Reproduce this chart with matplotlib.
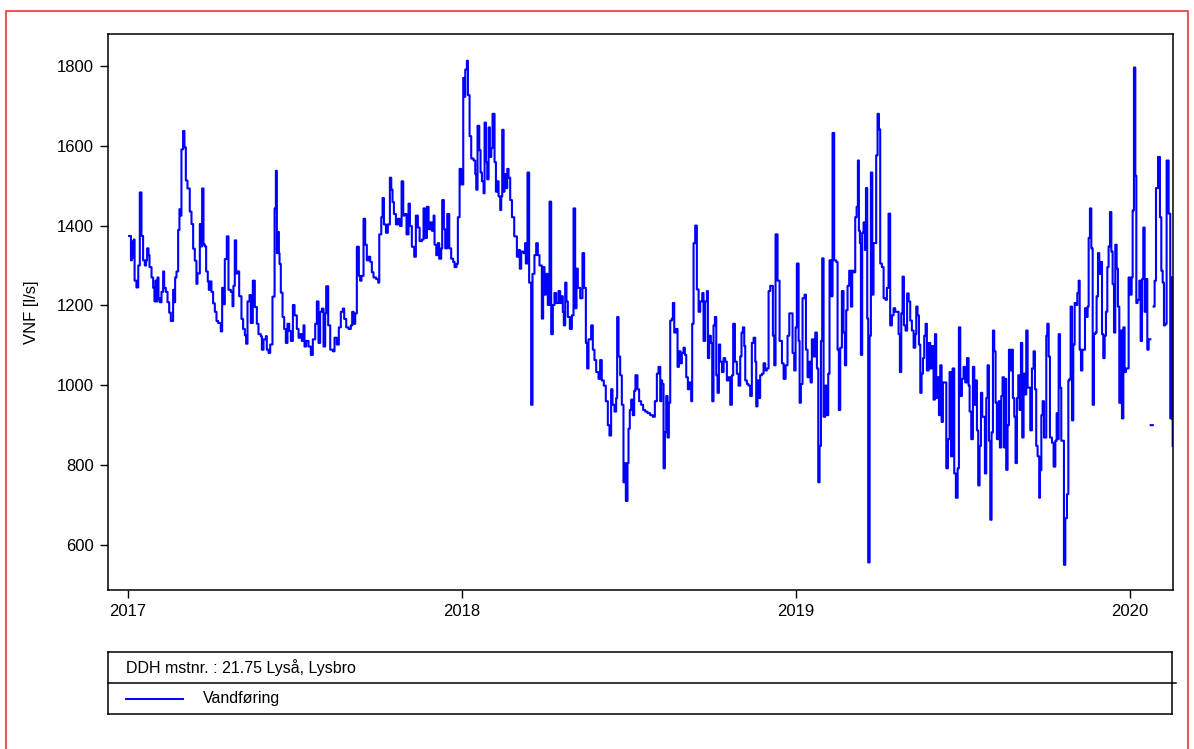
import numpy as np
import pandas as pd
import matplotlib
matplotlib.use('Agg')
import matplotlib.pyplot as plt
import matplotlib.dates as mdates
from matplotlib.lines import Line2D

plt.rcParams['font.family'] = ['Liberation Sans', 'DejaVu Sans']

# Daily discharge (l/s) at DDH 21.75 Lysaa, Lysbro.
# days = days after 2017-01-01, flow = value from that day on (step curve)
days_2017 = [1, 3, 4, 5, 6, 7, 9, 11, 12.7, 14.5, 16.3, 18.2, 19.6, 20.7, 22.2, 23.3, 25.5, 27.3,
             28.7, 29.8, 30.9, 32, 33.1, 34.6, 36.4, 38.2, 39.3, 41.1, 43, 44.8, 46.6, 49.1, 50.2,
             51.3, 52.8, 54.6, 56, 57.1, 58.2, 60, 61.5, 63, 64.8, 67.3, 69.2, 71, 72.8, 74.6, 75.7,
             78.3, 79.4, 80.8, 82.3, 83.7, 85.2, 87, 88.1, 89.2, 91, 92.8, 94.7, 96.5, 98.3, 101.2,
             102.7, 104.1, 105.6, 107.8, 109.6, 112.2, 114, 115, 116.5, 118, 119.4, 121.3, 123.8,
             125.6, 127.5, 128.9, 130.4, 132.6, 134, 136.2, 138.4, 140.6, 142.4, 145, 146.1, 147.9,
             150.5, 151.5, 153.4, 155.2, 157.7, 160, 161.4, 162.5, 163.6, 164.7, 165.4, 166.8, 168.7,
             170.5, 172.3, 174.1, 176, 177.8, 180, 181.8, 184.3, 186.2, 188, 189.8, 191.6, 192.7,
             194.5, 197.1, 199.6, 201.8, 204.4, 206.2, 208, 209.8, 211.7, 213.5, 215.3, 216.4, 218.6,
             220.8, 223.7, 225.5, 228, 230.2, 232.4, 234.6, 236.1, 238.3, 240.8, 243.3, 244.8, 246.3,
             248.1, 249.9, 252.1, 253.5, 255, 257.2, 259, 260.8, 262.7, 264.5, 266.3, 268.1, 271,
             273.2, 274.4, 276.6, 278, 279.5, 281.7, 283.8, 286, 287.5, 288.9, 290.4, 292.6, 294.8,
             297, 298.8, 300.6, 302, 304.2, 306.4, 307.9, 310, 312.6, 314.4, 316.6, 318.5, 321, 322.8,
             324.6, 326.5, 328.3, 330.1, 331.9, 333.8, 334.8, 336.7, 338.5, 339.9, 342.1, 343.2, 345,
             346.5, 348.7, 350.9, 353, 355.2, 356.7, 358.9, 360.3, 362.2, 364]
flow_2017 = [1374, 1313, 1360, 1320, 1365, 1262, 1245, 1300, 1483, 1374, 1313, 1300, 1313, 1343, 1326,
             1296, 1270, 1244, 1210, 1262, 1210, 1270, 1218, 1208, 1234, 1285, 1244, 1234, 1208, 1182,
             1161, 1239, 1208, 1270, 1285, 1389, 1441, 1425, 1591, 1637, 1596, 1513, 1493, 1435, 1404,
             1342, 1312, 1254, 1280, 1404, 1348, 1493, 1353, 1348, 1285, 1260, 1239, 1260, 1234, 1205,
             1184, 1161, 1156, 1135, 1244, 1203, 1316, 1373, 1239, 1234, 1198, 1249, 1363, 1280, 1285,
             1223, 1166, 1141, 1125, 1104, 1210, 1226, 1156, 1262, 1196, 1154, 1128, 1123, 1089, 1115,
             1123, 1089, 1081, 1102, 1222, 1443, 1537, 1331, 1384, 1331, 1304, 1232, 1171, 1141, 1106,
             1154, 1136, 1111, 1201, 1175, 1141, 1119, 1128, 1111, 1150, 1097, 1111, 1097, 1076, 1115,
             1154, 1210, 1106, 1184, 1192, 1097, 1180, 1248, 1150, 1089, 1085, 1119, 1102, 1145, 1184,
             1192, 1166, 1145, 1141, 1150, 1184, 1154, 1180, 1347, 1274, 1262, 1274, 1417, 1352, 1313,
             1322, 1309, 1283, 1270, 1266, 1257, 1378, 1421, 1469, 1403, 1382, 1403, 1520, 1490, 1459,
             1429, 1403, 1417, 1399, 1511, 1425, 1429, 1378, 1455, 1399, 1347, 1322, 1425, 1395, 1361,
             1365, 1443, 1369, 1447, 1391, 1408, 1387, 1425, 1352, 1326, 1356, 1317, 1343, 1464, 1391,
             1343, 1429, 1343, 1317, 1309, 1296, 1304, 1421, 1542, 1503]

days_2018 = [366.2, 367.6, 368.4, 370.2, 371.3, 373.1, 374.9, 377.5, 379.3, 380.4, 381.8, 383.7, 385.1,
             386.6, 388.4, 389.5, 391, 392.4, 393.9, 395.3, 396.8, 398.2, 400.4, 401.9, 403.3, 404.8,
             406.6, 407.7, 408.8, 410.3, 411.3, 412.8, 414.3, 415.7, 417.5, 419.4, 421.9, 424.8, 426.6,
             428, 429.5, 432, 433.9, 434.6, 436.4, 438.2, 440.4, 441.9, 444, 445.9, 447.7, 449.5, 452.1,
             453.5, 455, 456.4, 458.6, 460.5, 462.3, 464.1, 465.9, 467.7, 470.3, 472.1, 473.9, 475,
             476.1, 477.6, 479, 480.5, 482.7, 484.9, 486.7, 488.5, 490, 491.4, 494, 496.5, 498.3, 500.2,
             501.6, 503.1, 506, 507.8, 509.6, 511.5, 514, 515.8, 517.6, 519.8, 522, 524.2, 526, 527.8,
             529.3, 531.5, 533.3, 534.4, 535.9, 537.7, 539.5, 541.3, 543.1, 543.9, 545.7, 546.8, 548.2,
             549.7, 551.5, 553, 554.4, 556.6, 558.4, 560.6, 562.8, 565, 567.6, 570.5, 573.4, 575.6,
             577.8, 579.6, 581.5, 582.6, 583.6, 585.1, 586.6, 588, 589.5, 590.9, 592.4, 594.2, 595.3,
             596.8, 598.6, 600.4, 601.9, 603.7, 605.1, 606.9, 608.4, 609.9, 611.7, 613.5, 615.3, 616.4,
             617.9, 619.7, 621.5, 623.4, 625.2, 627.4, 628.8, 630.6, 632.5, 633.6, 635, 636.8, 638.3,
             639.7, 641.2, 642.7, 644.1, 645.6, 647, 648.9, 650.7, 652.5, 654.3, 656.1, 658, 659.8,
             661.2, 663.1, 665.2, 667.1, 668.9, 670.3, 671.8, 673.3, 674.4, 676.2, 678, 679.8, 681.6,
             683.5, 685.3, 686.4, 687.8, 689.7, 690.7, 692.6, 694.4, 696.2, 698, 699.9, 701.7, 704.6,
             706.1, 707.5, 709.7, 711.9, 714.5, 716.3, 718.5, 720.6, 722.5, 726.1, 727.9, 729.4]
flow_2018 = [1770, 1723, 1791, 1813, 1727, 1624, 1568, 1563, 1529, 1490, 1650, 1589, 1533, 1511, 1481,
             1658, 1559, 1516, 1646, 1572, 1594, 1680, 1559, 1485, 1511, 1473, 1439, 1473, 1640, 1485,
             1529, 1494, 1542, 1520, 1464, 1421, 1373, 1322, 1339, 1292, 1335, 1331, 1356, 1305, 1533,
             1257, 951, 1279, 1326, 1356, 1326, 1300, 1167, 1296, 1227, 1279, 1201, 1460, 1128, 1201,
             1231, 1206, 1236, 1206, 1223, 1184, 1150, 1257, 1210, 1171, 1141, 1175, 1443, 1193, 1292,
             1244, 1218, 1331, 1244, 1106, 1042, 1115, 1150, 1089, 1063, 1033, 1016, 1063, 1012, 999,
             960, 900, 874, 990, 951, 934, 968, 1171, 1072, 1025, 951, 757, 805, 710, 805, 891, 938, 964,
             925, 986, 1025, 990, 960, 951, 938, 934, 930, 925, 921, 960, 1029, 1046, 960, 1012, 1003,
             792, 882, 973, 869, 956, 1162, 1167, 1206, 1132, 1141, 1046, 1085, 1055, 1081, 1094, 1076,
             1020, 990, 1007, 960, 1154, 1356, 1400, 1240, 1184, 1210, 1231, 1111, 1210, 1236, 1068,
             1124, 1106, 960, 1150, 1171, 1025, 981, 1102, 1059, 1033, 1068, 1059, 1012, 1020, 951,
             1025, 1154, 1059, 1029, 999, 1072, 1132, 1145, 1098, 1012, 1003, 999, 973, 1106, 1119,
             1059, 947, 1012, 968, 1025, 1029, 1055, 1037, 1042, 1236, 1249, 1124, 1050, 1378, 1262,
             1111, 1055, 1016, 1050, 1124, 1180, 1081, 1037, 1145]

days_2019 = [730.8, 732.7, 733.8, 735.2, 737, 739.2, 740.7, 742.5, 744.3, 745.8, 747.2, 749.1, 750.9,
             752.7, 754.2, 755.6, 757.1, 758.5, 760, 761.8, 763.6, 765.1, 766.5, 768.4, 769.8, 771.6,
             773.8, 775.3, 776.7, 778.2, 780, 781.8, 783.3, 784.7, 786.2, 788, 789.9, 791.3, 792.8,
             794.6, 796.1, 797.5, 798.6, 799.7, 800.8, 802.2, 803.7, 805.2, 806.3, 807.7, 808.8, 810.3,
             811.7, 813.2, 814.6, 817.5, 819, 820.5, 821.9, 823.7, 825.6, 827.7, 829.2, 831, 832.8,
             834.7, 836.5, 838.3, 842, 843.4, 844.9, 846.3, 847.8, 849.6, 851.3, 853, 854.7, 856.5,
             858.4, 860.2, 861.3, 862.7, 864.2, 865.7, 867.1, 868.6, 870, 871.5, 872.9, 874.8, 876.6,
             878.4, 880.2, 881.7, 883.1, 884.6, 886.1, 887.5, 889, 890.4, 894.1, 895.9, 897.7, 899.2,
             901, 902.8, 904.6, 906.5, 907.9, 909.4, 911.2, 913, 914.8, 916.7, 918.5, 919.6, 921.4,
             923.2, 924.7, 926.1, 927.6, 929, 930.5, 932, 933.4, 936.3, 937.8, 939.2, 940.7, 942.2,
             943.6, 945.1, 946.5, 948, 949.4, 951.3, 952.7, 954.2, 955.6, 957.1, 958.6, 959.6, 961.1,
             962.6, 964, 965.5, 966.9, 968.4, 969.8, 971.3, 972.8, 974.2, 975.7, 977.1, 978.6, 980,
             981.5, 983, 985.9, 987.7, 989.5, 991, 992.4, 993.9, 995.7, 996.5, 998, 999.4, 1000.9,
             1003.4, 1004.5, 1006, 1007.4, 1009.6, 1011.4, 1013.3, 1014.7, 1016.2, 1016.9, 1018.4,
             1019.8, 1022.7, 1024.2, 1026, 1027.5, 1028.9, 1030, 1031.5, 1032.9, 1034.4, 1035.8, 1037.3,
             1038.8, 1039.9, 1041.3, 1042.8, 1045.7, 1047.1, 1048.6, 1049.7, 1051.1, 1052.6, 1054.1,
             1055.5, 1057, 1058.4, 1059.9, 1061.3, 1062.8, 1064.3, 1065.7, 1067.2, 1068.6, 1070.1,
             1071.5, 1073, 1074.5, 1075.9, 1077.4, 1078.8, 1080.3, 1081.7, 1083.2, 1084.7, 1086.1,
             1087.6, 1089, 1090.5, 1093.4]
flow_2019 = [1305, 1111, 956, 1003, 1218, 1227, 1089, 1020, 1059, 1007, 1115, 1072, 1132, 1042, 757,
             848, 1111, 1318, 921, 999, 925, 1029, 1313, 1223, 1632, 1313, 1309, 1089, 938, 1094, 1236,
             1132, 1050, 1188, 1249, 1287, 1197, 1287, 1283, 1421, 1447, 1563, 1387, 1356, 1076, 1382,
             1408, 1339, 1494, 1167, 556, 1124, 1533, 1227, 1356, 1576, 1680, 1641, 1305, 1296, 1218,
             1214, 1244, 1430, 1150, 1175, 1193, 1184, 1128, 1033, 1180, 1272, 1150, 1137, 1230, 1210,
             1162, 1137, 1094, 1128, 1197, 1175, 1102, 981, 1029, 1068, 1124, 1154, 1037, 1106, 1042,
             1098, 964, 1128, 968, 1020, 925, 1050, 908, 1007, 792, 865, 1033, 822, 1042, 779, 718, 792,
             1145, 973, 1016, 1046, 1007, 1068, 999, 934, 865, 1046, 951, 1012, 887, 749, 848, 981, 921,
             779, 968, 1050, 861, 663, 882, 1137, 1085, 956, 865, 960, 844, 973, 1020, 844, 1016, 788,
             900, 1089, 1037, 1089, 968, 921, 805, 968, 1025, 938, 1106, 869, 1029, 977, 1137, 994, 887,
             1042, 1085, 990, 848, 822, 718, 787, 925, 960, 869, 1124, 1154, 1072, 869, 856, 796, 861,
             930, 865, 1128, 994, 861, 550, 667, 727, 1012, 1016, 1197, 912, 1102, 1206, 1201, 1231,
             1262, 1089, 1037, 1089, 1193, 1171, 1197, 1369, 1443, 1343, 951, 1128, 1132, 1223, 1331,
             1279, 1309, 1128, 1068, 1124, 1184, 1296, 1348, 1434, 1335, 1253, 1132, 1352, 1292, 1197,
             956, 1137, 917, 1145, 1033, 1042, 1270]

# nan = no data (short gap in February 2020)
days_2020 = [1095.2, 1096.7, 1097.8, 1099.2, 1100.7, 1101.8, 1103.2, 1105.1, 1106.5, 1108, 1109.4,
             1110.9, 1112.3, 1113.8, 1115.3, 1117.1, 1117.5, 1119.8, 1120.7, 1121.8, 1123.3, 1125.5,
             1127.6, 1129.1, 1130.6, 1132, 1133.5, 1134.9, 1137.1, 1138.9, 1140, 1140.8, 1141.5, 1143]
flow_2020 = [1227, 1270, 1438, 1796, 1525, 1206, 1214, 1262, 1111, 1266, 1395, 1184, 1266, 1089, 1115,
             np.nan, 900, np.nan, 1197, 1262, 1494, 1572, 1421, 1287, 1257, 1150, 1154, 1563, 1430, 917,
             1270, 915, 847, 847]

station = 'DDH mstnr. : 21.75 Lyså, Lysbro'
series_name = 'Vandføring'

days = days_2017 + days_2018 + days_2019 + days_2020
flow = flow_2017 + flow_2018 + flow_2019 + flow_2020
dates = pd.Timestamp('2017-01-01') + pd.to_timedelta(days, unit='D')

fig = plt.figure(figsize=(11.94, 7.49), dpi=100)
ax = fig.add_axes([0.0905, 0.2123, 0.892, 0.7423])
ax.plot(dates, flow, drawstyle='steps-post', color='#0000ff', lw=1.5)

ax.set_xlim(pd.Timestamp('2016-12-10'), pd.Timestamp('2020-02-17'))
ax.set_ylim(487, 1880)
ax.set_yticks([600, 800, 1000, 1200, 1400, 1600, 1800])
ax.xaxis.set_major_locator(mdates.YearLocator())
ax.xaxis.set_major_formatter(mdates.DateFormatter('%Y'))
ax.tick_params(direction='out', length=6, width=1, labelsize=12, colors='black', pad=4)
ax.set_ylabel('VNF [l/s]', fontsize=12, labelpad=13)
for s in ax.spines.values():
    s.set_linewidth(1.1)

# legend box under the plot
lg = fig.add_axes([0.0905, 0.0467, 0.891, 0.0828])
lg.set_xlim(0, 1)
lg.set_ylim(0, 1)
lg.set_xticks([])
lg.set_yticks([])
for s in lg.spines.values():
    s.set_linewidth(1.1)
lg.plot([0, 1.004], [0.5, 0.5], color='black', lw=1.1, clip_on=False)
lg.text(0.017, 0.75, station, fontsize=11.5, va='center', ha='left')
lg.plot([0.017, 0.0705], [0.25, 0.25], color='#0000ff', lw=1.4)
lg.text(0.089, 0.25, series_name, fontsize=11.5, va='center', ha='left')

# red frame round the whole picture
fig.add_artist(Line2D([0.005, 0.005, 0.995, 0.995], [0.0, 0.9853, 0.9853, 0.0],
                      transform=fig.transFigure, color='#e85a5a', lw=1.5))

fig.savefig('out.png', dpi=100)
